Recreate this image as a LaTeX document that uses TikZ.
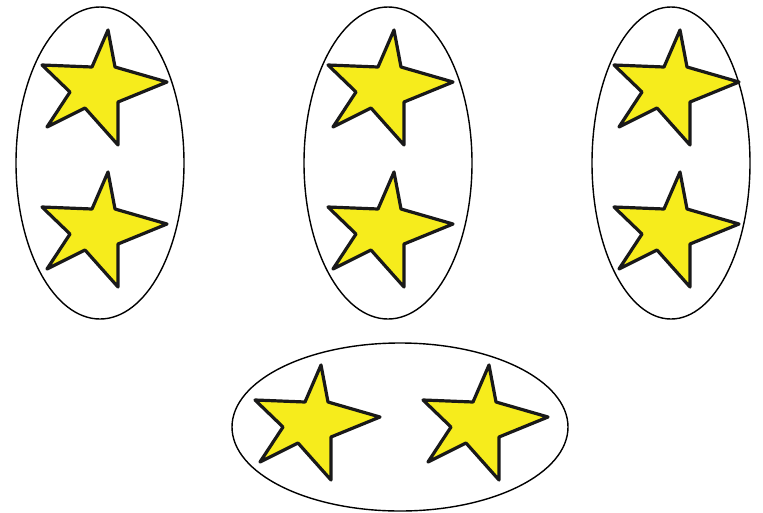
\documentclass[tikz,border=0pt]{standalone}
\usetikzlibrary{shapes.geometric}
\definecolor{staryellow}{RGB}{246,236,28}
\tikzset{
  group/.style={draw=black, line width=1.4pt, ellipse, inner sep=0pt},
  starshape/.pic={
    \draw[line width=3.2pt, line join=round, fill=staryellow, draw=black!90]
      (3,-58) -- (-13,-21) -- (-63,-23) -- (-35,4) -- (-58,39) -- (-20,20)
      -- (13,57) -- (13,14) -- (62,-6) -- (10,-21) -- cycle;
  }
}
\begin{document}
\begin{tikzpicture}[x=1pt,y=-1pt]
\useasboundingbox (0,0) rectangle (763,512);
\fill[white] (0,0) rectangle (763,512);
\node[group, minimum width=168pt, minimum height=312pt] (g1) at (100,163) {};
\node[group, minimum width=168pt, minimum height=312pt] (g2) at (388,163) {};
\node[group, minimum width=158pt, minimum height=312pt] (g3) at (671,163) {};
\node[group, minimum width=336pt, minimum height=168pt] (g4) at (400,427) {};
\pic at (105,88) {starshape};
\pic at (105,230) {starshape};
\pic at (391,88) {starshape};
\pic at (391,230) {starshape};
\pic at (677,88) {starshape};
\pic at (677,230) {starshape};
\pic at (318,423) {starshape};
\pic at (486,423) {starshape};
\end{tikzpicture}
\end{document}
